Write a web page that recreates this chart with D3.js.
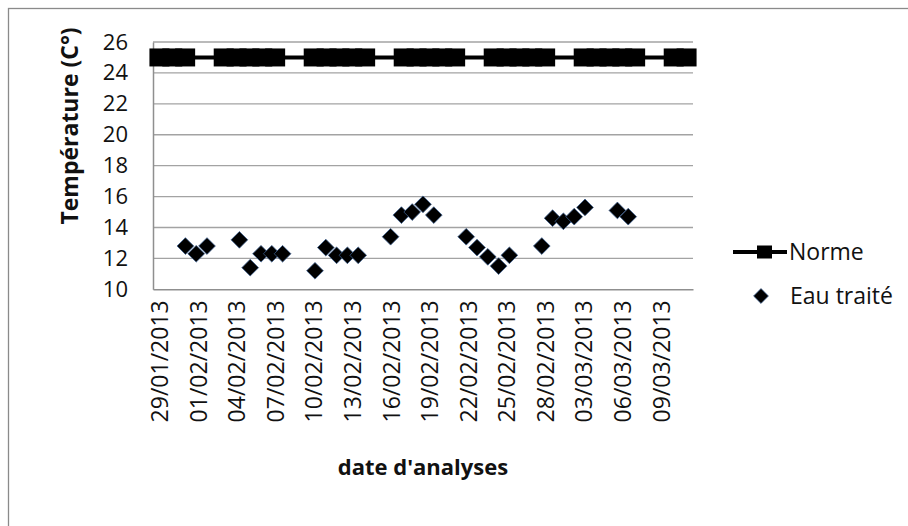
<!DOCTYPE html>
<html>
<head>
<meta charset="utf-8">
<script src="https://cdn.jsdelivr.net/npm/d3@7"></script>
<style>
  html, body { margin: 0; padding: 0; background: #fff; }
  svg { display: block; }
  text { font-family: "Open Sans", "Noto Sans", sans-serif; fill: #111; }
</style>
</head>
<body>
<svg id="chart" width="908" height="526"></svg>
<script>
// ---- data ----
const tickLabels = ["29/01/2013","01/02/2013","04/02/2013","07/02/2013","10/02/2013","13/02/2013","16/02/2013",
                    "19/02/2013","22/02/2013","25/02/2013","28/02/2013","03/03/2013","06/03/2013","09/03/2013"];
const yTicks = [10, 12, 14, 16, 18, 20, 22, 24, 26];
const dates = ["29/01/2013","30/01/2013","31/01/2013",
               "03/02/2013","04/02/2013","05/02/2013","06/02/2013","07/02/2013",
               "10/02/2013","11/02/2013","12/02/2013","13/02/2013","14/02/2013",
               "17/02/2013","18/02/2013","19/02/2013","20/02/2013","21/02/2013",
               "24/02/2013","25/02/2013","26/02/2013","27/02/2013","28/02/2013",
               "03/03/2013","04/03/2013","05/03/2013","06/03/2013","07/03/2013",
               "10/03/2013","11/03/2013"];
const norme = [25,25,25, 25,25,25,25,25, 25,25,25,25,25, 25,25,25,25,25, 25,25,25,25,25, 25,25,25,25,25, 25,25];
const eauTraite = [12.8,12.3,12.8,
                   13.2,11.4,12.3,12.3,12.3,
                   11.2,12.7,12.2,12.2,12.2,
                   13.4,14.8,15.0,15.5,14.8,
                   13.4,12.7,12.1,11.5,12.2,
                   12.8,14.6,14.4,14.7,15.3,
                   15.1,14.7];
const seriesNames = ["Norme", "Eau traité"];

(function () {
// ---- layout ----
const parse = d3.timeParse("%d/%m/%Y");
const fmt = d3.timeFormat("%d/%m/%Y");
const pLeft = 153, pRight = 693, pTop = 42, pBottom = 289.3;
const first = parse("29/01/2013"), last = parse("11/03/2013");

const svg = d3.select("#chart");

// chart frame
svg.append("rect").attr("x", 8.5).attr("y", 8.5).attr("width", 905).attr("height", 525)
  .attr("fill", "#fff").attr("stroke", "#8a8a8a").attr("stroke-width", 1.3);

// primary date axis: one slot per day
const x = d3.scaleTime()
  .domain([d3.timeHour.offset(first, -12), d3.timeHour.offset(last, 12)])
  .range([pLeft, pRight]);
// secondary axis used by the "Eau traité" series
const xEau = d3.scaleTime()
  .domain([d3.timeDay.offset(first, -3), d3.timeDay.offset(first, 47)])
  .range([pLeft, pRight]);
const y = d3.scaleLinear().domain([10, 26]).range([pBottom, pTop]);

// gridlines
svg.append("g").selectAll("line").data(yTicks.slice(1)).join("line")
  .attr("x1", pLeft).attr("x2", pRight)
  .attr("y1", d => y(d)).attr("y2", d => y(d))
  .attr("stroke", "#a3a3a3").attr("stroke-width", 1.3);

// y axis
const yAxis = svg.append("g").attr("transform", `translate(${pLeft},0)`)
  .call(d3.axisLeft(y).tickValues(yTicks).tickSize(0).tickPadding(25));
yAxis.select(".domain").attr("stroke", "#8f8f8f").attr("stroke-width", 1.5);
yAxis.selectAll("text").style("font-size", "22px").style("font-family", "'Open Sans', sans-serif").attr("fill", "#111");

// x axis
const xAxis = svg.append("g").attr("transform", `translate(0,${pBottom})`)
  .call(d3.axisBottom(x).tickValues(tickLabels.map(parse)).tickFormat(fmt).tickSize(0).tickSizeOuter(0));
xAxis.select(".domain").attr("stroke", "#8f8f8f").attr("stroke-width", 1.5);
xAxis.selectAll("text")
  .style("font-size", "23px").style("font-family", "'Open Sans', sans-serif").attr("fill", "#111")
  .attr("text-anchor", "end")
  .attr("transform", "rotate(-90)")
  .attr("x", -11).attr("y", 0).attr("dy", "0.36em");

// Norme series
const normeData = dates.map((d, i) => ({ date: parse(d), v: norme[i] }));
svg.append("path").datum(normeData)
  .attr("fill", "none").attr("stroke", "#000").attr("stroke-width", 4)
  .attr("d", d3.line().x(d => x(d.date)).y(d => y(d.v)));
const sqW = 20, sqH = 18;
svg.append("g").selectAll("rect").data(normeData).join("rect")
  .attr("x", d => x(d.date) - sqW / 2).attr("y", d => y(d.v) - sqH / 2)
  .attr("width", sqW).attr("height", sqH).attr("fill", "#000");

// Eau traité series
const diamond = d3.symbol().type(d3.symbolSquare).size(140);
const eauData = dates.map((d, i) => ({ date: parse(d), v: eauTraite[i] }));
svg.append("g").selectAll("path").data(eauData).join("path")
  .attr("d", diamond)
  .attr("transform", d => `translate(${xEau(d.date)},${y(d.v)}) rotate(45)`)
  .attr("fill", "#000").attr("stroke", "#3b5f8f").attr("stroke-width", 0.9).attr("stroke-opacity", 0.8);

// axis titles
svg.append("text")
  .attr("transform", "translate(78,126) rotate(-90)")
  .attr("text-anchor", "middle")
  .style("font-size", "23px").style("font-weight", "bold")
  .text("Température (C°)");
svg.append("text")
  .attr("x", (pLeft + pRight) / 2).attr("y", 475)
  .attr("text-anchor", "middle")
  .style("font-size", "22px").style("font-weight", "bold")
  .text("date d'analyses");

// legend
const lg = svg.append("g");
lg.append("line").attr("x1", 733).attr("x2", 787).attr("y1", 252).attr("y2", 252)
  .attr("stroke", "#000").attr("stroke-width", 4);
lg.append("rect").attr("x", 757).attr("y", 245.5).attr("width", 15).attr("height", 13).attr("fill", "#000");
lg.append("text").attr("x", 789).attr("y", 259.5).style("font-size", "23px").text(seriesNames[0]);
lg.append("path").attr("d", d3.symbol().type(d3.symbolSquare).size(110))
  .attr("transform", "translate(761,296) rotate(45)")
  .attr("fill", "#000").attr("stroke", "#3b5f8f").attr("stroke-width", 0.9).attr("stroke-opacity", 0.8);
lg.append("text").attr("x", 790).attr("y", 304).style("font-size", "23px").text(seriesNames[1]);
})();
</script>
</body>
</html>
